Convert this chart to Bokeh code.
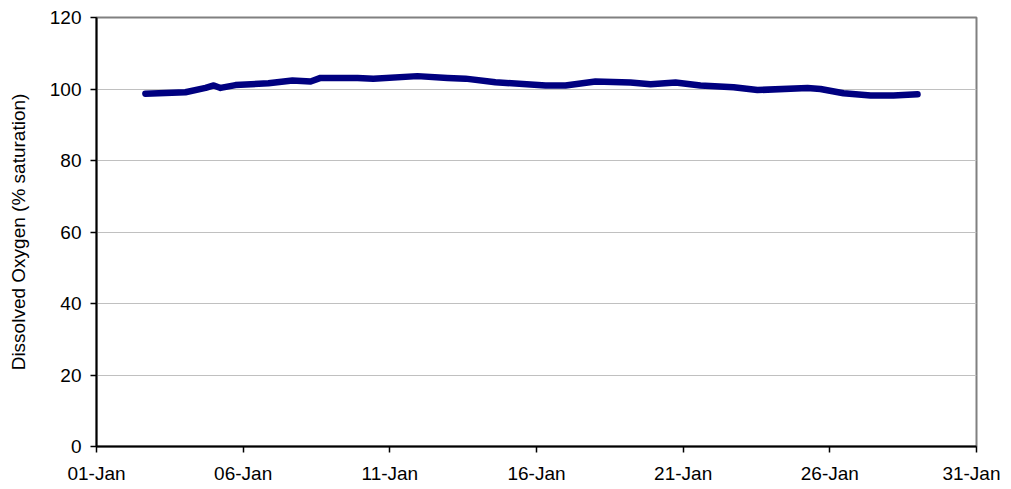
import pandas as pd
from bokeh.plotting import figure
from bokeh.models import FixedTicker, DatetimeTickFormatter, Range1d
from bokeh.embed import file_html
from bokeh.resources import INLINE

# Data (timestamps, % saturation)
times = [
    "2007-01-02 16:00", "2007-01-04 00:45", "2007-01-04 17:15", "2007-01-05 00:00",
    "2007-01-05 05:30", "2007-01-05 17:45", "2007-01-06 20:40", "2007-01-07 16:20",
    "2007-01-08 07:10", "2007-01-08 15:20", "2007-01-09 21:35", "2007-01-10 10:30",
    "2007-01-11 22:35", "2007-01-12 23:15", "2007-01-13 13:55", "2007-01-14 14:25",
    "2007-01-16 07:25", "2007-01-16 23:45", "2007-01-18 00:15", "2007-01-19 04:50",
    "2007-01-19 21:20", "2007-01-20 17:45", "2007-01-21 14:10", "2007-01-22 17:15",
    "2007-01-23 12:45", "2007-01-25 05:45", "2007-01-25 16:20", "2007-01-26 11:15",
    "2007-01-27 09:20", "2007-01-28 04:05", "2007-01-28 23:45",
]
do_sat = [
    98.7, 99.1, 100.3, 101.0,
    100.3, 101.1, 101.6, 102.4,
    102.1, 103.1, 103.1, 102.9,
    103.6, 103.1, 102.9, 101.9,
    101.0, 101.0, 102.1, 101.8,
    101.3, 101.8, 101.0, 100.5,
    99.7, 100.3, 100.0, 98.8,
    98.2, 98.2, 98.5,
]
tick_dates = ["2007-01-01", "2007-01-06", "2007-01-11", "2007-01-16",
              "2007-01-21", "2007-01-26", "2007-01-31"]
y_ticks = [0, 20, 40, 60, 80, 100, 120]

x = pd.to_datetime(times)
tick_ms = [pd.Timestamp(d).value // 10**6 for d in tick_dates]

p = figure(width=1000, height=487, x_axis_type="datetime",
           output_backend="svg", toolbar_location=None,
           min_border_left=96, min_border_top=17, min_border_right=24,
           min_border_bottom=41)
p.x_range = Range1d(pd.Timestamp(tick_dates[0]), pd.Timestamp(tick_dates[-1]))
p.y_range = Range1d(0, 120)

p.line(x, do_sat, line_color="#000080", line_width=6.5, line_cap="round",
       line_join="round")

p.background_fill_color = "white"
p.border_fill_color = "white"
p.outline_line_color = "#808080"
p.outline_line_width = 2

p.xgrid.visible = False
p.ygrid.ticker = FixedTicker(ticks=y_ticks[1:-1])
p.ygrid.grid_line_color = "#c0c0c0"
p.ygrid.grid_line_width = 1

font = "Liberation Sans"
p.xaxis.ticker = FixedTicker(ticks=tick_ms)
p.xaxis.formatter = DatetimeTickFormatter(days="%d-%b", months="%d-%b",
                                          hours="%d-%b")
p.yaxis.ticker = FixedTicker(ticks=y_ticks)
p.yaxis.axis_label = "Dissolved Oxygen (% saturation)"

for ax in (p.xaxis, p.yaxis):
    ax.axis_line_color = "black"
    ax.axis_line_width = 2
    ax.major_tick_line_color = "black"
    ax.major_tick_line_width = 1.5
    ax.major_tick_out = 6
    ax.major_tick_in = 0
    ax.minor_tick_line_color = None
    ax.major_label_text_font = font
    ax.major_label_text_font_size = "19px"
    ax.major_label_text_color = "black"
    ax.axis_label_text_font = font
    ax.axis_label_text_font_size = "19px"
    ax.axis_label_text_font_style = "normal"
    ax.axis_label_text_color = "black"

p.xaxis.major_label_standoff = 10
p.yaxis.major_label_standoff = 9
p.yaxis.axis_label_standoff = 18

open("out.html", "w").write(file_html(p, INLINE))
